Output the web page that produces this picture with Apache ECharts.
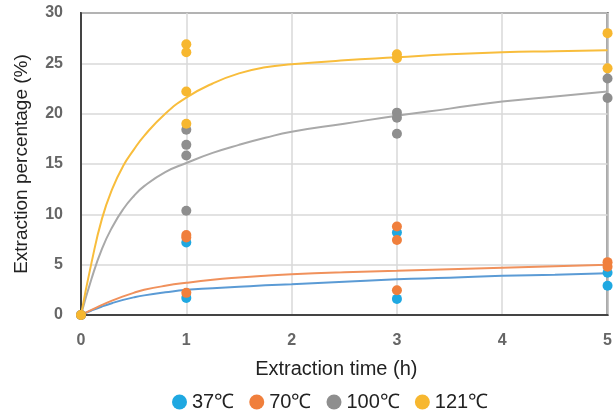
<!DOCTYPE html>
<html>
<head>
<meta charset="utf-8">
<style>
  html, body { margin: 0; padding: 0; background: #fff; }
  #chart { width: 615px; height: 417px; }
</style>
<script src="https://cdn.jsdelivr.net/npm/echarts@6/dist/echarts.min.js"></script>
</head>
<body>
<div id="chart"></div>
<script>
// Legend names (one per temperature)
const temps = ['37℃', '70℃', '100℃', '121℃'];

// Measured points [time h, extraction %]
const pts37 = [[0, 0], [1, 7.2], [1, 1.7], [3, 8.2], [3, 1.6], [5, 4.2], [5, 2.9]];
const pts70 = [[0, 0], [1, 7.95], [1, 7.7], [1, 2.2], [3, 8.8], [3, 7.45], [3, 2.45], [5, 5.25], [5, 4.8]];
const pts100 = [[0, 0], [1, 18.4], [1, 16.9], [1, 15.85], [1, 10.35], [3, 20.1], [3, 19.6], [3, 18.0], [5, 23.5], [5, 21.55]];
const pts121 = [[0, 0], [1, 26.9], [1, 26.1], [1, 22.2], [1, 19.0], [3, 25.9], [3, 25.5], [5, 28.0], [5, 24.5]];

// Fitted curves
const fitTimes = [0, 0.1, 0.2, 0.3, 0.4, 0.5, 0.6, 0.8, 1, 1.25, 1.5, 1.75, 2, 2.5, 3, 3.5, 4, 4.5, 5];
const fit37 = [0, 0.45, 0.85, 1.2, 1.5, 1.75, 1.95, 2.25, 2.5, 2.65, 2.8, 2.95, 3.05, 3.3, 3.55, 3.7, 3.9, 4.0, 4.15];
const fit70 = [0, 0.5, 1.0, 1.45, 1.85, 2.2, 2.5, 2.9, 3.2, 3.5, 3.72, 3.9, 4.05, 4.25, 4.4, 4.55, 4.7, 4.85, 5.0];
const fit100 = [0, 3.6, 6.6, 8.8, 10.5, 11.8, 12.8, 14.2, 15.1, 16.1, 16.9, 17.6, 18.2, 19.0, 19.8, 20.5, 21.2, 21.7, 22.2];
const fit121 = [0, 5.2, 9.6, 12.6, 14.8, 16.4, 17.8, 20.0, 21.6, 23.0, 24.0, 24.6, 24.9, 25.3, 25.6, 25.9, 26.1, 26.2, 26.3];

const dotColors = ['#1fa8e1', '#f07f3c', '#8e8e8e', '#f7b72f'];
const lineColors = ['#5b9bd5', '#f0915c', '#a9a9a9', '#f8bd3c'];

function pairUp(xs, ys) {
    return xs.map((x, i) => [x, ys[i]]);
}

const chart = echarts.init(document.getElementById('chart'));

const fits = [fit37, fit70, fit100, fit121];
const pts = [pts37, pts70, pts100, pts121];

const lineSeries = fits.map((f, i) => ({
    name: 'fit' + i,
    type: 'line',
    data: pairUp(fitTimes, f),
    smooth: 0.5,
    showSymbol: false,
    silent: true,
    lineStyle: { color: lineColors[i], width: 2 },
    z: 2
}));

const dotSeries = pts.map((p, i) => ({
    name: temps[i],
    type: 'scatter',
    data: p,
    symbolSize: 10,
    itemStyle: { color: dotColors[i], opacity: 1 },
    z: 3
}));

chart.setOption({
    animation: false,
    grid: {
        left: 81, right: 5, top: 13, bottom: 102,
        show: true, borderColor: '#444', borderWidth: 2
    },
    legend: {
        data: temps,
        left: 167,
        bottom: 0,
        icon: 'circle',
        itemWidth: 15,
        itemHeight: 15,
        itemGap: 15,
        textStyle: { fontFamily: 'Liberation Sans', fontSize: 20, color: '#222' }
    },
    xAxis: {
        type: 'value',
        min: 0, max: 5, interval: 1,
        name: 'Extraction time (h)',
        nameLocation: 'middle',
        nameGap: 44,
        nameTextStyle: { fontFamily: 'Liberation Sans', fontSize: 20, color: '#222', padding: [0, 16, 0, 0] },
        axisLine: { show: true, lineStyle: { color: '#444', width: 2 } },
        axisTick: { show: false },
        axisLabel: { fontFamily: 'Liberation Sans', fontSize: 16, fontWeight: 'bold', color: '#666', margin: 18 },
        splitLine: { show: true, lineStyle: { color: '#d9d9d9', width: 1.5 } }
    },
    yAxis: {
        type: 'value',
        min: 0, max: 30, interval: 5,
        name: 'Extraction percentage (%)',
        nameLocation: 'middle',
        nameGap: 50,
        nameTextStyle: { fontFamily: 'Liberation Sans', fontSize: 19, color: '#222' },
        axisLine: { show: true, lineStyle: { color: '#444', width: 2 } },
        axisTick: { show: false },
        axisLabel: { fontFamily: 'Liberation Sans', fontSize: 16, fontWeight: 'bold', color: '#666', margin: 18 },
        splitLine: { show: true, lineStyle: { color: '#d9d9d9', width: 1.5 } }
    },
    series: lineSeries.concat(dotSeries)
});
</script>
</body>
</html>
